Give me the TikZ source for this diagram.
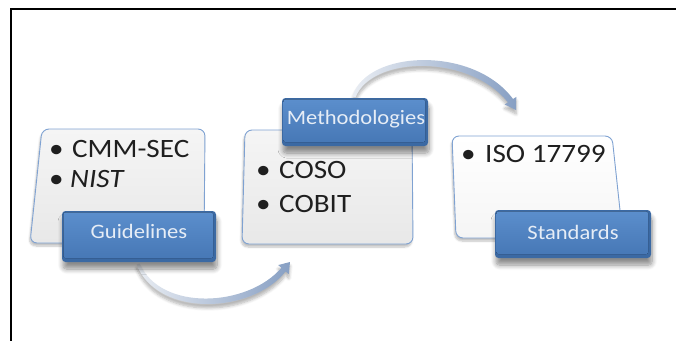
\documentclass[tikz,border=0pt]{standalone}
\usepackage{fontspec}
\setmainfont{Carlito}[FakeStretch=1.1]
\usetikzlibrary{shadows.blur,calc}

\definecolor{tabdark}{HTML}{3B69A3}
\definecolor{tabtop}{HTML}{5B8ECC}
\definecolor{tabbot}{HTML}{4778B6}
\definecolor{tabtext}{HTML}{E6EDF6}
\definecolor{cardedge}{HTML}{7FA2D2}
\definecolor{cardtop}{HTML}{F5F5F5}
\definecolor{cardbot}{HTML}{E8E8E8}
\definecolor{swooplight}{HTML}{E9EDF3}
\definecolor{swoopdark}{HTML}{879FC3}

\tikzset{
  card/.style={rounded corners=7pt, draw=cardedge, line width=0.9pt,
    top color=cardtop, bottom color=cardbot,
    blur shadow={shadow xshift=-1pt, shadow yshift=-3pt, shadow opacity=25, shadow blur steps=6}},
  tab/.style={rounded corners=3.5pt, fill=tabdark, inner sep=0pt,
    blur shadow={shadow xshift=1pt, shadow yshift=-7pt, shadow opacity=45,
      shadow blur radius=5pt, shadow blur steps=8}},
  tabface/.style={rounded corners=2.5pt, top color=tabtop, bottom color=tabbot},
  tablabel/.style={anchor=base, inner sep=0pt, text=tabtext,
    font=\fontsize{20.5}{24}\selectfont},
  item/.style={anchor=base west, inner sep=0pt, text=black!88,
    font=\fontsize{26.5}{30}\selectfont},
  swoop/.style={left color=swooplight, right color=swoopdark, draw=none,
    blur shadow={shadow xshift=0pt, shadow yshift=-4pt, shadow opacity=30,
      shadow blur radius=3pt, shadow blur steps=6}}
}

\begin{document}
\begin{tikzpicture}[x=1pt, y=-1pt]
  \useasboundingbox (0,0) rectangle (676,340);

  % frame corner
  \draw[line width=2pt] (11,341) -- (11,9) -- (677,9);

  % cards
  \path[card] (42,129) -- (205,129) -- (204,243) -- (30,243) -- cycle;
  \path[card] (245,130) -- (412,130) -- (413,244) -- (242,244) -- cycle;
  \path[card, top color=white, bottom color=cardtop] (452,136) -- (612,136) -- (623,238) -- (456,238) -- cycle;

  % card contents
  \node[item] (i1) at (49,157) {\makebox[23pt][l]{•}CMM-SEC};
  \node[item] (i2) at (49,187) {\makebox[21pt][l]{•}\textit{NIST}};
  \node[item] (i3) at (256,178) {\makebox[23pt][l]{•}COSO};
  \node[item] (i4) at (256,212) {\makebox[23pt][l]{•}COBIT};
  \node[item] (i5) at (461,162) {\makebox[24pt][l]{•}ISO 17799};

  % curved arrows
  \path[swoop] (136.5,264.5) .. controls (158,318) and (252,314) .. (285.6,271.4)
    -- (288.8,274.2) -- (290,262) -- (278.2,265.05) -- (281.4,267.8)
    .. controls (248,307) and (161,312) .. (139.5,263.5) -- cycle;
  \path[swoop] (352.5,96.5) .. controls (366,50) and (473,45) .. (513,99)
    -- (516.3,96.9) -- (516,110) -- (504.7,104.5) -- (508,102.3)
    .. controls (468,53) and (371,56) .. (355.5,97.5) -- cycle;

  % tabs
  \node[tab, minimum width=154pt, minimum height=51pt] (guide) at (139,236.5) {};
  \fill[tabface] ($(guide.north west)+(1.5,1.5)$) rectangle ($(guide.south east)+(-3,-4)$);
  \node[tablabel] (guidetxt) at (139,238) {Guidelines};

  \node[tab, minimum width=146pt, minimum height=48pt] (meth) at (355,122) {};
  \fill[tabface] ($(meth.north west)+(1.5,1.5)$) rectangle ($(meth.south east)+(-3,-4)$);
  \node[tablabel] (methtxt) at (356,124) {Methodologies};

  \node[tab, minimum width=156pt, minimum height=48pt] (std) at (573,234) {};
  \fill[tabface] ($(std.north west)+(1.5,1.5)$) rectangle ($(std.south east)+(-3,-4)$);
  \node[tablabel] (stdtxt) at (573,239) {Standards};
\end{tikzpicture}
\end{document}
